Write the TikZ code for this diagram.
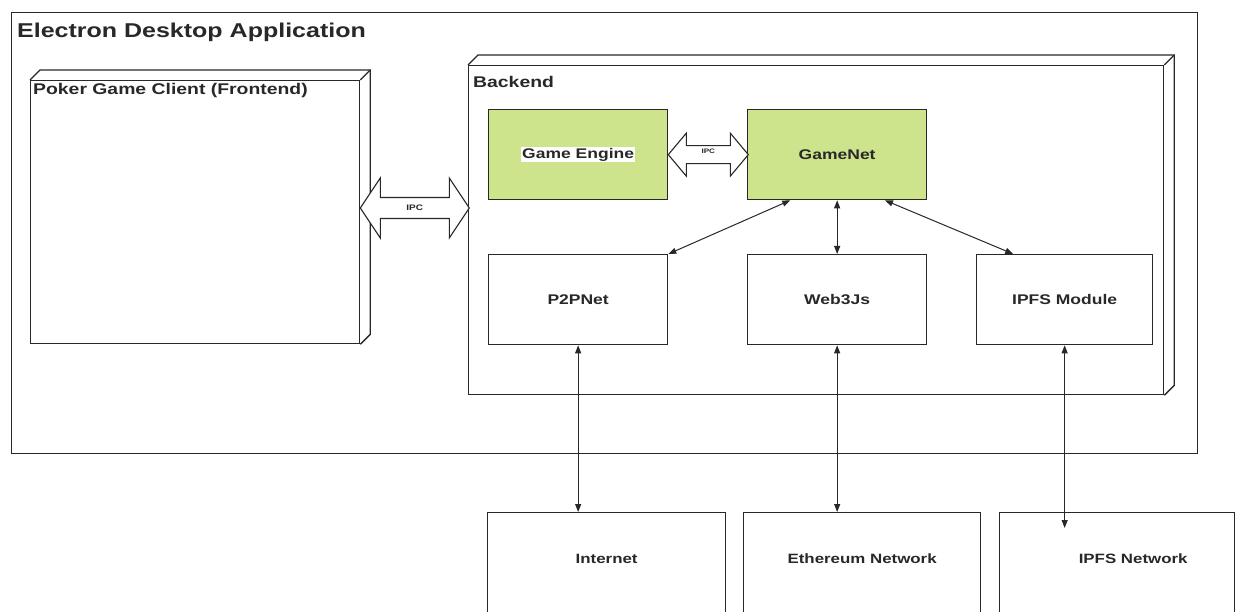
\documentclass[tikz,border=0pt]{standalone}
\usepackage{fontspec}
\setmainfont[FakeStretch=1.25]{Liberation Sans}
\usetikzlibrary{arrows.meta,calc}
\definecolor{modgreen}{RGB}{205,227,140}
\definecolor{linegray}{RGB}{40,40,40}
\tikzset{
  boxline/.style={draw=linegray, line width=1.3pt},
  module/.style={boxline, anchor=north west, minimum width=179pt, minimum height=90pt, inner sep=0pt,
    font=\fontsize{14}{16}\selectfont\bfseries, text=linegray},
  greenmod/.style={module, fill=modgreen},
  netbox/.style={boxline, anchor=north west, minimum height=130pt, inner sep=0pt},
  netlabel/.style={anchor=center, inner sep=0pt, yshift=-47, font=\fontsize{13.5}{16}\selectfont\bfseries, text=linegray},
  title/.style={anchor=north west, inner sep=0pt, text=linegray},
  ipcarrow/.style={draw=linegray, line width=1.1pt, fill=white, line join=miter},
  ipctext/.style={inner sep=0pt, text=linegray},
  link/.style={draw=linegray, line width=1pt, {Triangle[length=8pt,width=6pt]}-{Triangle[length=8pt,width=6pt]}},
}
\begin{document}
\begin{tikzpicture}[x=1pt, y=-1pt]
  \clip (0,0) rectangle (1235,612);
  \fill[white] (0,0) rectangle (1235,612);
  \node[boxline, anchor=north west, minimum width=1186pt, minimum height=441pt,
    label={[title, xshift=6, yshift=-11, font=\fontsize{20}{24}\selectfont\bfseries]north west:Electron Desktop Application}] (app) at (11,12) {};
  % frontend
  \node[boxline, anchor=north west, minimum width=329pt, minimum height=263pt,
    label={[title, xshift=3, yshift=-3, font=\fontsize{15.5}{18}\selectfont\bfseries]north west:Poker Game Client (Frontend)}] (front) at (30,80) {};
  \draw[boxline] (front.north west) -- ++(10,-10) -| ($(front.south east)+(10,-10)$) -- (front.south east);
  \draw[boxline] (front.north east) -- ++(10,-10);
  % backend
  \node[boxline, anchor=north west, minimum width=695pt, minimum height=329pt,
    label={[title, xshift=5, yshift=-11, font=\fontsize{15.5}{18}\selectfont\bfseries]north west:Backend}] (back) at (468,65) {};
  \draw[boxline] (back.north west) -- ++(10,-10) -| ($(back.south east)+(10,-10)$) -- (back.south east);
  \draw[boxline] (back.north east) -- ++(10,-10);

  \node[greenmod, label={[fill=white, inner sep=1pt, font=\fontsize{14}{16}\selectfont\bfseries, text=linegray]center:Game Engine}] (engine) at (488,109) {};
  \node[greenmod] (gamenet) at (747,109) {GameNet};
  \node[module] (p2p) at (488,254) {P2PNet};
  \node[module] (web3) at (747,254) {Web3Js};
  \node[module, minimum width=176pt] (ipfsmod) at (976,254) {IPFS Module};

  \node[netbox, minimum width=238pt, label={[netlabel]north:Internet}] (internet) at (487,512) {};
  \node[netbox, minimum width=237pt, label={[netlabel]north:Ethereum Network}] (ethnet) at (743,512) {};
  \node[netbox, minimum width=235pt, label={[netlabel, xshift=16]north:IPFS Network}] (ipfsnet) at (999,512) {};

  % fat IPC arrows
  \coordinate (ipcbig) at (front.east |- 0,208);
  \draw[ipcarrow] (ipcbig) -- ++(20,-30) -- ++(0,19.5) -- ++(69,0) -- ++(0,-19.5) -- ++(20,30)
    -- ++(-20,30) -- ++(0,-19.5) -- ++(-69,0) -- ++(0,19.5) -- cycle;
  \node[ipctext, font=\fontsize{8}{9}\selectfont\bfseries] (ipcbigtext) at ($(ipcbig)+(54.5,0)$) {IPC};
  \coordinate (ipcsmall) at (engine.east);
  \draw[ipcarrow] (ipcsmall) -- ++(18,-21.5) -- ++(0,12.5) -- ++(44,0) -- ++(0,-12.5) -- ++(18,21.5)
    -- ++(-18,21.5) -- ++(0,-12.5) -- ++(-44,0) -- ++(0,12.5) -- cycle;
  \node[ipctext, font=\fontsize{6.5}{7}\selectfont\bfseries] (ipcsmalltext) at ($(ipcsmall)+(40,-3)$) {IPC};

  \draw[link] ($(gamenet.south west)!0.24!(gamenet.south east)$) -- (p2p.north east);
  \draw[link] (gamenet.south) -- (web3.north);
  \draw[link] ($(gamenet.south west)!0.765!(gamenet.south east)$) -- ($(ipfsmod.north west)!0.21!(ipfsmod.north east)$);
  \draw[link] (p2p.south) -- (p2p.south |- internet.north);
  \draw[link] (web3.south) -- (web3.south |- ethnet.north);
  \draw[link] (ipfsmod.south) -- ($(ipfsmod.south |- ipfsnet.north)+(0,16)$);
\end{tikzpicture}
\end{document}
